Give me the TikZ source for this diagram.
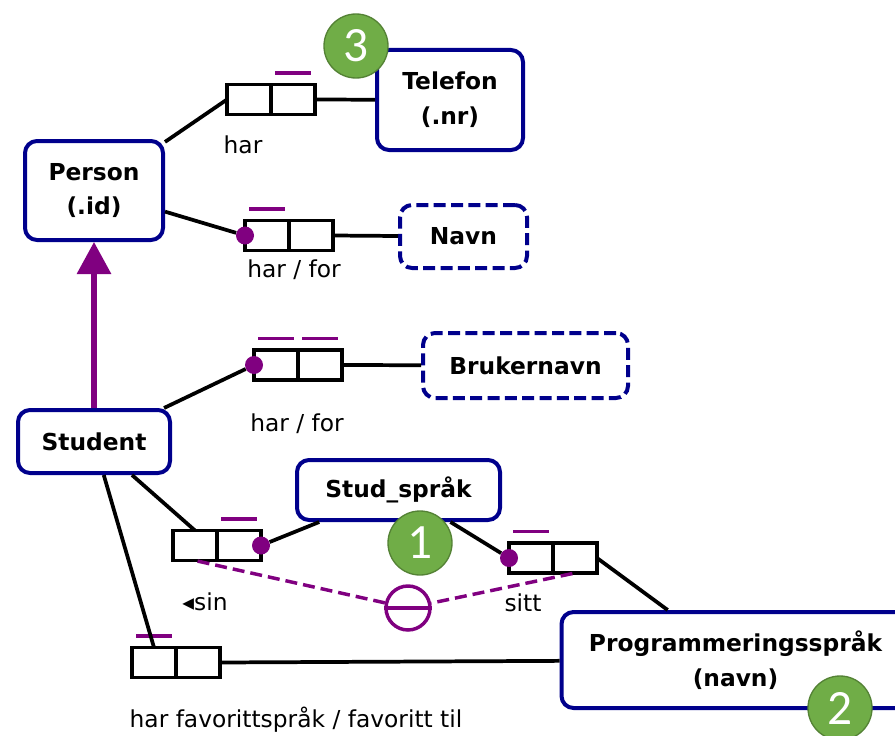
\documentclass[tikz,border=0pt]{standalone}
\usepackage{fontspec}
\setmainfont{DejaVu Sans}
\newfontfamily\badgefont{Carlito}
\usetikzlibrary{arrows.meta}

\definecolor{entblue}{RGB}{0,0,140}
\definecolor{constr}{RGB}{128,0,128}
\definecolor{badgegreen}{RGB}{112,173,71}
\definecolor{badgeedge}{RGB}{84,130,53}

\tikzset{
	cell/.style={draw=black, line width=2.4pt, outer sep=0pt, inner sep=0pt, minimum width=33pt, minimum height=22.5pt},
	pics/role/.style={
		code = {
			\node[cell, anchor=east] (-l) at (0,0) {};
			\node[cell, anchor=west] (-r) at (0,0) {};
		}
	}
}

\begin{document}
\begin{tikzpicture}[x=0.75pt, y=-0.75pt,
	entity/.style={draw=entblue, fill=white, line width=3pt, rounded corners=9pt, align=center, font=\fontsize{17.5}{26}\selectfont\bfseries},
	value/.style={entity, dash pattern=on 9pt off 4pt},
	link/.style={draw=black, line width=2.8pt},
	ubar/.style={draw=constr, line width=2.6pt, shorten <=3pt, shorten >=3pt},
	rdot/.style={circle, fill=constr, minimum size=13.5pt, inner sep=0pt},
	excl/.style={circle, draw=constr, line width=2.6pt, minimum size=33pt, inner sep=0pt},
	xlink/.style={draw=constr, line width=2.6pt, dash pattern=on 9pt off 4.5pt, shorten <=2pt},
	subtype/.style={draw=constr, line width=3.9pt, -{Triangle[width=25pt, length=24pt]}},
	lbl/.style={inner sep=0pt, font=\fontsize{17.5}{20}\selectfont},
	badge/.style={circle, fill=badgegreen, draw=badgeedge, line width=1pt, text=white, minimum size=48pt, inner sep=0pt, font=\badgefont\fontsize{37}{37}\selectfont}]
	\useasboundingbox (0,0) rectangle (895,735);

	% --- entities ---
	\node[entity, minimum width=103.5pt, minimum height=74.25pt] (person) at (94,190.5) {Person\\(.id)};
	\node[entity, minimum width=109.5pt, minimum height=75pt] (telefon) at (450,100) {Telefon\\(.nr)};
	\node[value, minimum width=95.25pt, minimum height=47.25pt] (navn) at (463.5,236.5) {Navn};
	\node[value, minimum width=153.75pt, minimum height=48.75pt] (bruker) at (525.5,365.5) {Brukernavn};
	\node[entity, minimum width=114pt, minimum height=47.25pt] (student) at (94,441.5) {Student};
	\node[entity, minimum width=152.25pt, minimum height=45pt] (studsprak) at (398.5,490) {Stud\_språk};
	\node[entity, minimum width=261pt, minimum height=72pt] (prog) at (735.5,660) {Programmeringsspråk\\(navn)};

	% --- roles ---
	\pic (tel) at (271,99.5) {role};
	\pic (nav) at (289,235.5) {role};
	\pic (bru) at (298,365) {role};
	\pic (sin) at (217,545.5) {role};
	\pic (sitt) at (553,558) {role};
	\pic (fav) at (176,662.5) {role};

	% uniqueness bars
	\draw[ubar] ([yshift=8.5pt]tel-r.north west) -- ([yshift=8.5pt]tel-r.north east);
	\draw[ubar] ([yshift=8.5pt]nav-l.north west) -- ([yshift=8.5pt]nav-l.north east);
	\draw[ubar] ([yshift=8.5pt]bru-l.north west) -- ([yshift=8.5pt]bru-l.north east);
	\draw[ubar] ([yshift=8.5pt]bru-r.north west) -- ([yshift=8.5pt]bru-r.north east);
	\draw[ubar] ([yshift=8.5pt]sin-r.north west) -- ([yshift=8.5pt]sin-r.north east);
	\draw[ubar] ([yshift=8.5pt]sitt-l.north west) -- ([yshift=8.5pt]sitt-l.north east);
	\draw[ubar] ([yshift=8.5pt]fav-l.north west) -- ([yshift=8.5pt]fav-l.north east);

	% mandatory dots
	\node[rdot] (nav-dot) at (nav-l.west) {};
	\node[rdot] (bru-dot) at (bru-l.west) {};
	\node[rdot] (sin-dot) at (sin-r.east) {};
	\node[rdot] (sitt-dot) at (sitt-l.west) {};

	% --- links ---
	\draw[link] (person) -- (tel-l.west);
	\draw[link] (tel-r.east) -- (telefon);
	\draw[link] (person) -- (nav-dot);
	\draw[link] (nav-r.east) -- (navn);
	\draw[link] (student) -- (bru-dot);
	\draw[link] (bru-r.east) -- (bruker);
	\draw[link] (student) -- (sin-l.north);
	\draw[link] (sin-dot) -- (studsprak);
	\draw[link] (studsprak) -- (sitt-dot);
	\draw[link] (sitt-r.east) -- (prog);
	\draw[link] (student) -- (fav-l.north);
	\draw[link] (fav-r.east) -- (prog);

	% subtype
	\draw[subtype] (student) -- (person);

	% exclusion
	\node[excl] (xor) at (408,608) {};
	\draw[draw=constr, line width=2.6pt] (xor.west) -- (xor.east);
	\draw[xlink] (sin-l.south) -- (xor);
	\draw[xlink] (sitt-r.south) -- (xor);

	% --- labels ---
	\node[lbl] (tel-lbl) at (243,145) {har};
	\node[lbl] (nav-lbl) at (294,270) {har / for};
	\node[lbl] (bru-lbl) at (297,424) {har / for};
	\node[lbl] (sin-lbl) at (205,602) {◂sin};
	\node[lbl] (sitt-lbl) at (523,603) {sitt};
	\node[lbl] (fav-lbl) at (296,720) {har favorittspråk / favoritt til};

	% --- badges ---
	\node[badge] (b3) at (356,46) {3};
	\node[badge] (b1) at (420,543) {1};
	\node[badge] (b2) at (840,708) {2};
\end{tikzpicture}
\end{document}
